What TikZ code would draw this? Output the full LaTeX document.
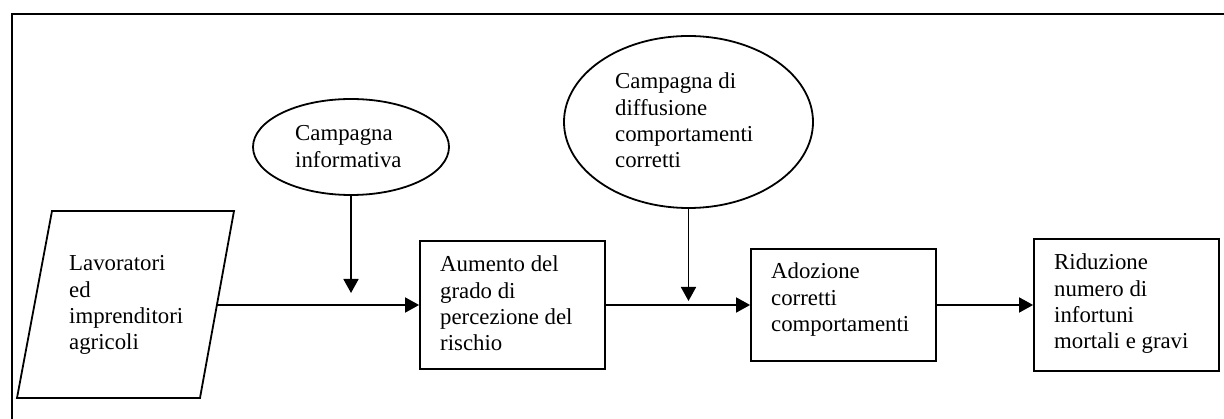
\documentclass[tikz,border=0pt]{standalone}
\usepackage{fontspec}
\setmainfont{Liberation Serif}
\usetikzlibrary{shapes.geometric,arrows.meta}
\newcommand{\lines}[1]{\begin{tabular}[t]{@{}l@{}}#1\end{tabular}}
\begin{document}
\begin{tikzpicture}[x=1pt,y=-1pt,
  shapeline/.style={draw=black, line width=1.8pt},
  box/.style={shapeline, rectangle, inner sep=0pt},
  oval/.style={shapeline, ellipse, inner sep=0pt},
  txt/.style={anchor=base west, inner sep=0pt, font=\fontsize{22.8}{26.3}\selectfont},
  conn/.style={line width=1.8pt, -{Triangle[length=14pt,width=15pt]}},
]
\useasboundingbox (0,0) rectangle (1224,419);
% frame
\draw[line width=1.8pt] (12,419) -- (12,14) -- (1224,14);
% parallelogram
\draw[shapeline] (52,211) -- (234,211) -- (200,398) -- (17,398) -- cycle;
\coordinate (parR) at (217,305);
\node[txt] (tLav) at (69,271) {\lines{Lavoratori\\ed\\imprenditori\\agricoli}};
% ellipses
\node[oval, minimum width=196pt, minimum height=96pt] (ov1) at (351,147) {};
\node[txt] (tOv1) at (295,141) {\lines{Campagna\\informativa}};
\node[oval, minimum width=249pt, minimum height=172pt] (ov2) at (688.5,122) {};
\node[txt] (tOv2) at (615,89) {\lines{Campagna di\\diffusione\\comportamenti\\corretti}};
% boxes
\node[box, minimum width=185pt, minimum height=128pt] (aum) at (512.5,305) {};
\node[txt] (tAum) at (440,272) {\lines{Aumento del\\grado di\\percezione del\\rischio}};
\node[box, minimum width=185pt, minimum height=112pt] (ado) at (843.5,305) {};
\node[txt] (tAdo) at (771,279) {\lines{Adozione\\corretti\\comportamenti}};
\node[box, minimum width=185pt, minimum height=132pt] (rid) at (1126.5,305) {};
\node[txt] (tRid) at (1054,270) {\lines{Riduzione\\numero di\\infortuni\\mortali e gravi}};
% connectors
\coordinate (j1) at (351,293);
\coordinate (j2) at (688.5,301);
\draw[conn] (parR) -- (aum.west);
\draw[conn] (aum.east) -- (ado.west);
\draw[conn] (ado.east) -- (rid.west);
\draw[conn] (ov1.south) -- (j1);
\draw[conn] (ov2.south) -- (j2);
\end{tikzpicture}
\end{document}
